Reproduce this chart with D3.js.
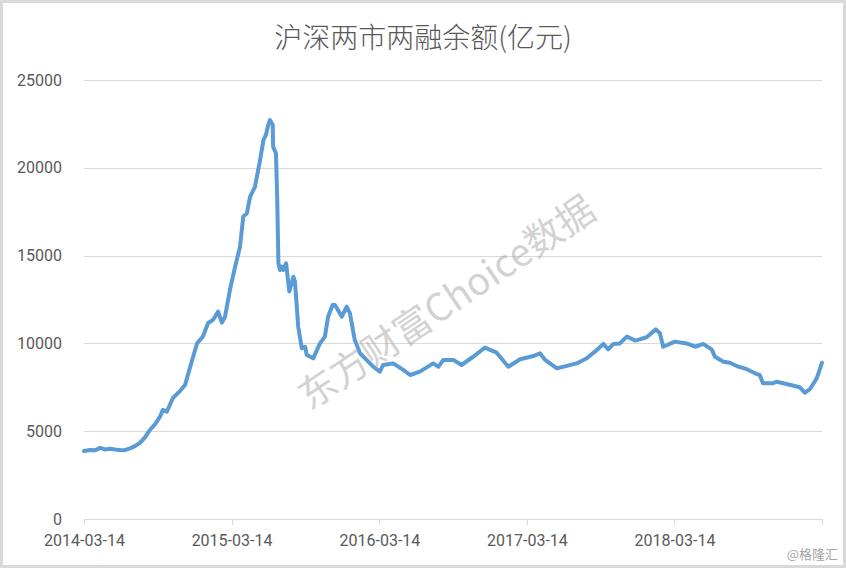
<!DOCTYPE html>
<html>
<head>
<meta charset="utf-8">
<script src="https://cdn.jsdelivr.net/npm/d3@7"></script>
<style>
  html, body { margin: 0; padding: 0; background: #fff; }
  svg { display: block; }
</style>
</head>
<body>
<svg id="chart" width="846" height="568"></svg>
<script>
const chartTitle = "沪深两市两融余额(亿元)";
const watermarkText = "东方财富Choice数据";
const sourceText = "@格隆汇";

const dates = [
  "2014-03-14","2014-03-29","2014-04-10","2014-04-23","2014-05-05","2014-05-17","2014-05-30","2014-06-11",
  "2014-06-23","2014-07-06","2014-07-18","2014-07-31","2014-08-12","2014-08-24","2014-09-06","2014-09-18",
  "2014-09-25","2014-10-05","2014-10-20","2014-11-07","2014-11-19","2014-11-26","2014-12-09","2014-12-19",
  "2015-01-02","2015-01-15","2015-01-27","2015-02-09","2015-02-18","2015-02-26","2015-03-10","2015-03-23",
  "2015-04-04","2015-04-12","2015-04-21","2015-04-29","2015-05-11","2015-05-19","2015-05-23","2015-06-01",
  "2015-06-07","2015-06-13","2015-06-17","2015-06-24","2015-06-25","2015-07-02","2015-07-05","2015-07-08",
  "2015-07-12","2015-07-16","2015-07-20","2015-07-27","2015-08-04","2015-08-14","2015-08-18","2015-08-26",
  "2015-09-04","2015-09-12","2015-09-16","2015-10-02","2015-10-19","2015-10-31","2015-11-08","2015-11-19",
  "2015-11-25","2015-12-12","2015-12-24","2016-01-01","2016-01-13","2016-01-26","2016-02-11","2016-02-28",
  "2016-03-15","2016-03-23","2016-04-17","2016-05-12","2016-05-29","2016-06-22","2016-07-25","2016-08-07",
  "2016-08-19","2016-09-13","2016-10-03","2016-11-01","2016-11-30","2016-12-29","2017-01-27","2017-02-25",
  "2017-03-30","2017-04-15","2017-04-28","2017-05-27","2017-07-15","2017-08-09","2017-08-29","2017-09-19",
  "2017-10-01","2017-10-14","2017-10-30","2017-11-16","2017-12-07","2018-01-04","2018-01-27","2018-02-06",
  "2018-02-14","2018-03-15","2018-04-13","2018-05-04","2018-05-24","2018-06-14","2018-06-22","2018-07-13",
  "2018-07-29","2018-08-15","2018-09-09","2018-10-03","2018-10-11","2018-10-19","2018-11-13","2018-11-22",
  "2018-12-16","2019-01-18","2019-01-31","2019-02-12","2019-03-01","2019-03-14"
];
const balances = [
  3870,3930,3910,4050,3960,4000,3960,3930,
  3920,4020,4150,4345,4650,5070,5400,5830,
  6210,6110,6890,7300,7630,8200,9240,10020,
  10380,11160,11330,11810,11180,11520,13040,14370,
  15510,17220,17410,18360,18920,19880,20350,21580,
  21870,22440,22720,22440,21200,20820,18300,14560,
  14180,14370,14180,14560,12950,13800,13520,10950,
  9720,9810,9340,9150,10000,10390,11520,12190,
  12190,11520,12090,11710,10190,9440,9060,8670,
  8390,8770,8860,8490,8200,8390,8860,8670,
  9060,9060,8770,9240,9760,9470,8670,9100,
  9280,9440,9060,8580,8860,9150,9530,9970,
  9660,9970,10000,10390,10160,10350,10800,10580,
  9810,10100,10000,9810,9970,9660,9240,8960,
  8900,8710,8530,8260,8200,7730,7730,7820,
  7690,7500,7190,7390,8010,8900
];

const yTicks = [0, 5000, 10000, 15000, 20000, 25000];
const xTickDates = ["2014-03-14","2015-03-14","2016-03-14","2017-03-14","2018-03-14","2019-03-14"];
const xTickLabels = ["2014-03-14","2015-03-14","2016-03-14","2017-03-14","2018-03-14",""];

const parse = d3.timeParse("%Y-%m-%d");
const data = dates.map((d, i) => ({ date: parse(d), value: balances[i] }));

const svg = d3.select("#chart");
const W = 846, H = 568;
const plot = { left: 84, right: 822, top: 80, bottom: 519 };

svg.append("rect").attr("x", 0).attr("y", 0).attr("width", W).attr("height", H).attr("fill", "#fff");
svg.append("rect").attr("x", 1.5).attr("y", 1.5).attr("width", W - 3).attr("height", H - 3)
  .attr("fill", "none").attr("stroke", "#d9d9d9").attr("stroke-width", 3);

const x = d3.scaleTime()
  .domain([parse(xTickDates[0]), parse(xTickDates[xTickDates.length - 1])])
  .range([plot.left, plot.right]);
const y = d3.scaleLinear().domain([0, 25000]).range([plot.bottom, plot.top]);

// gridlines + y labels
const yAxis = d3.axisLeft(y).tickValues(yTicks).tickFormat(d3.format("d"))
  .tickSize(-(plot.right - plot.left)).tickPadding(22);
const gy = svg.append("g").attr("transform", `translate(${plot.left},0)`).call(yAxis);
gy.select(".domain").remove();
gy.selectAll(".tick line").attr("stroke", "#d9d9d9").attr("stroke-width", 1).attr("shape-rendering", "crispEdges");
gy.selectAll(".tick text").attr("fill", "#595959").style("font-family", "Roboto, 'Liberation Sans', sans-serif")
  .style("font-size", "16px");

// x axis
const xAxis = d3.axisBottom(x)
  .tickValues(xTickDates.map(parse))
  .tickSize(6).tickPadding(10)
  .tickFormat((d, i) => xTickLabels[i]);
const gx = svg.append("g").attr("transform", `translate(0,${plot.bottom})`).call(xAxis);
gx.select(".domain").attr("stroke", "#d9d9d9").attr("shape-rendering", "crispEdges")
  .attr("d", `M${plot.left},0.5H${plot.right}`);
gx.selectAll(".tick line").attr("stroke", "#d9d9d9").attr("shape-rendering", "crispEdges");
gx.selectAll(".tick text").attr("fill", "#595959").style("font-family", "Roboto, 'Liberation Sans', sans-serif")
  .style("font-size", "16px");

// line
const line = d3.line().x(d => x(d.date)).y(d => y(d.value)).curve(d3.curveLinear);
svg.append("path").datum(data)
  .attr("d", line)
  .attr("fill", "none")
  .attr("stroke", "#5B9BD5")
  .attr("stroke-width", 4)
  .attr("stroke-linejoin", "round")
  .attr("stroke-linecap", "round");

// title
svg.append("text")
  .attr("x", W / 2).attr("y", 48)
  .attr("text-anchor", "middle")
  .attr("fill", "#595959")
  .style("font-family", "'Noto Sans CJK SC', sans-serif")
  .style("font-weight", 300)
  .style("font-size", "28px")
  .text(chartTitle);

// watermark
svg.append("text")
  .attr("transform", "translate(445,300) rotate(-34)")
  .attr("text-anchor", "middle")
  .attr("dominant-baseline", "central")
  .attr("fill", "#a6a6a6")
  .attr("fill-opacity", 0.5)
  .style("font-family", "'Noto Sans CJK SC', sans-serif")
  .style("font-size", "38px")
  .text(watermarkText);

// source
svg.append("text")
  .attr("x", 838).attr("y", 559)
  .attr("text-anchor", "end")
  .attr("fill", "#a6a6a6")
  .style("font-family", "'Noto Sans CJK SC', sans-serif")
  .style("font-size", "13px")
  .text(sourceText);
</script>
</body>
</html>
